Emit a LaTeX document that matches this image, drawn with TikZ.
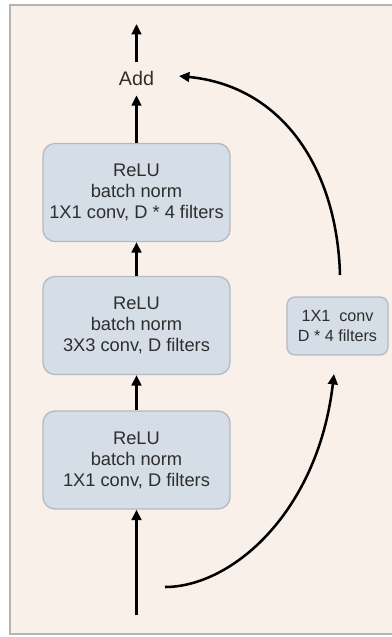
\documentclass[tikz,border=0pt]{standalone}
\usepackage{fontspec}
\setmainfont{Liberation Sans}
\usetikzlibrary{arrows.meta}
\definecolor{paper}{HTML}{FAF0EA}
\definecolor{frameline}{HTML}{B4B4B4}
\definecolor{boxfill}{HTML}{D5DDE6}
\definecolor{boxline}{HTML}{B3B9C1}
\definecolor{ink}{HTML}{2E2E2E}
\begin{document}
\begin{tikzpicture}[x=0.025cm,y=-0.025cm,
  layer/.style={draw=boxline, line width=0.9pt, fill=boxfill, rounded corners=0.3cm,
    minimum width=4.675cm, minimum height=2.45cm, align=center, inner sep=0pt,
    font=\fontsize{13}{15}\selectfont, text=ink},
  proj/.style={layer, rounded corners=0.2cm, minimum width=2.525cm, minimum height=1.45cm,
    font=\fontsize{11.5}{14}\selectfont},
  sumnode/.style={inner sep=0pt, minimum height=0.825cm, font=\fontsize{14}{16}\selectfont, text=ink},
  flow/.style={line width=2.1pt, -{Triangle[length=2.6mm,width=2.4mm]}},
  skip/.style={line width=1.8pt, -{Triangle[length=2.6mm,width=2.4mm]}}]
\useasboundingbox (0,0) rectangle (392,637);
% page and panel
\fill[white] (0,0) rectangle (392,637);
\fill[paper] (10,5) rectangle (392,634);
\draw[frameline, line width=0.9pt] (392,5) -- (10,5) -- (10,634) -- (392,634);

% bottleneck layers
\node[layer] (b3) at (136.5,460) {ReLU\\batch norm\\1X1 conv, D filters};
\node[layer] (b2) at (136.5,325.5) {ReLU\\batch norm\\3X3 conv, D filters};
\node[layer] (b1) at (136.5,192.5) {ReLU\\batch norm\\1X1 conv, D * 4 filters};
\node[sumnode] (add) at (136.5,78.5) {Add};

% projection shortcut
\node[proj] (sc) at (337.5,326) {1X1\ \ conv\\D * 4 filters};

% free ends
\coordinate (in) at (136.5,615);
\coordinate (out) at (136.5,24);
\coordinate (split) at (165,587);
\coordinate (scin) at (334,374);
\coordinate (scout) at (340,275);
\coordinate (addin) at (179,76);

% main path
\draw[flow] (in) -- (b3.south);
\draw[flow] (b3.north) -- (b2.south);
\draw[flow] (b2.north) -- (b1.south);
\draw[flow] (b1.north) -- (add.south);
\draw[flow] (add.north) -- (out);

% shortcut path
\draw[skip] (split) .. controls (232,587) and (318,512) .. (scin);
\draw[skip] (scout) .. controls (337,168) and (282,86) .. (addin);
\end{tikzpicture}
\end{document}
